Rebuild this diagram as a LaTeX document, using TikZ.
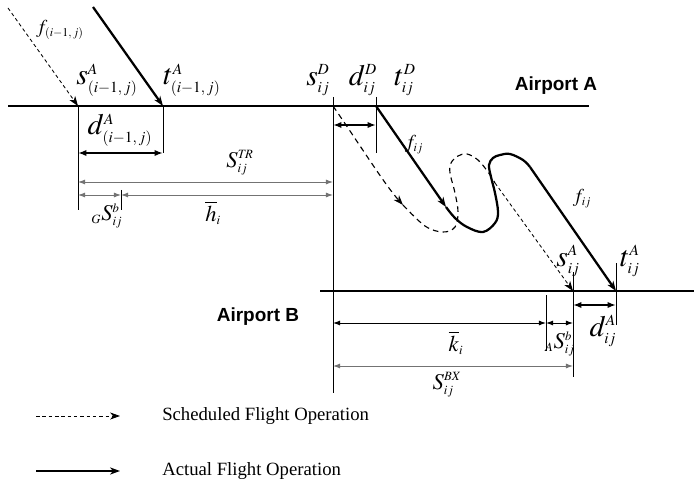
\documentclass[tikz,border=0pt]{standalone}
\usepackage{amsmath}
\usepackage{mathptmx}
\usepackage{fontspec}
\setmainfont{Liberation Serif}
\setsansfont{Liberation Sans}
\usepackage{xcolor}
\usepackage{tikz}
\usetikzlibrary{arrows.meta}
\DeclareMathSizes{21}{21}{11}{8}
\DeclareMathSizes{16}{16}{9}{6}
\DeclareMathSizes{14}{14}{8.5}{6}

\begin{document}
\begin{tikzpicture}[x=0.025cm,y=-0.025cm,
    apt/.style={line width=1pt},
    tick/.style={line width=0.5pt},
    act/.style={line width=1.6pt},
    sched/.style={line width=0.8pt, dash pattern=on 4pt off 3pt},
    fine/.style={line width=0.6pt, dash pattern=on 2.5pt off 2pt},
    tip/.style={-{Stealth[length=7pt,width=5pt,inset=2pt]}},
    dim/.style={{Latex[length=5pt,width=3.5pt]}-{Latex[length=5pt,width=3.5pt]}, line width=0.6pt},
    bigdim/.style={{Latex[length=6pt,width=4.5pt]}-{Latex[length=6pt,width=4.5pt]}, line width=1.4pt},
    lab/.style={font=\fontsize{21}{24}\selectfont, inner sep=0pt},
    sm/.style={font=\fontsize{16}{18}\selectfont, inner sep=0pt},
    flab/.style={font=\fontsize{14}{16}\selectfont, inner sep=0pt},
    apname/.style={font=\sffamily\bfseries\fontsize{13.5}{16}\selectfont, inner sep=0pt},
    legtext/.style={font=\fontsize{13.3}{16}\selectfont, inner sep=0pt, anchor=west}]

    \useasboundingbox (0,0) rectangle (694,491);

    \coordinate (aptA0) at (8,106);
    \coordinate (aptA1) at (589,106);
    \coordinate (aptB0) at (320,291);
    \coordinate (aptB1) at (694,291);
    \coordinate (sAprev) at (78,106);
    \coordinate (tAprev) at (163,106);
    \coordinate (sD) at (333,106);
    \coordinate (tD) at (376,106);
    \coordinate (sA) at (573,291);
    \coordinate (tA) at (616,291);
    \coordinate (bufG) at (121,195);
    \coordinate (bufA) at (546,323);
    \coordinate (schedMid) at (403,205);
    \coordinate (actMid) at (446,207);
    \coordinate (schedOut) at (495,183);
    \coordinate (actOut) at (530,167);

    \draw[apt] (aptA0) -- (aptA1);
    \draw[apt] (aptB0) -- (aptB1);
    \node[apname] (airA) at (556,86) {Airport A};
    \node[apname] (airB) at (258,317) {Airport B};

    \draw[tick] (sAprev) -- ++(0,104);
    \draw[tick] (tAprev) -- ++(0,47);
    \draw[tick] (bufG |- 0,190) -- (bufG |- 0,210);
    \draw[tick] (sD |- 0,97) -- (sD |- 0,393);
    \draw[tick] (tD |- 0,97) -- (tD |- 0,153);
    \draw[tick] (sA |- 0,272) -- (sA |- 0,377);
    \draw[tick] (tA |- 0,263) -- (tA |- 0,325);
    \draw[tick] (bufA |- 0,295) -- (bufA |- 0,351);

    \draw[bigdim] (sAprev |- 0,153) -- (tAprev |- 0,153);
    \draw[dim, black!55] (sAprev |- 0,182) -- (sD |- 0,182);
    \draw[dim, black!55] (sAprev |- bufG) -- (bufG);
    \draw[dim, black!55] (bufG) -- (sD |- bufG);
    \draw[bigdim] (sD |- 0,125) -- (tD |- 0,125);
    \draw[bigdim] (sA |- 0,305) -- (tA |- 0,305);
    \draw[dim] (sD |- bufA) -- (bufA);
    \draw[dim] (bufA) -- (sA |- bufA);
    \draw[dim, black!55] (sD |- 0,366) -- (sA |- 0,366);

    \draw[fine, tip] (8,8) -- (sAprev);
    \draw[act, tip] (93,7) -- (tAprev);

    \draw[sched, tip] (sD) .. controls (360,145) and (385,185) .. (schedMid);
    \draw[sched] plot[smooth, tension=0.6] coordinates {(schedMid) (425,226) (443,232) (455,227) (458,212) (455,193) (450,173) (451,163) (458,156) (467,154) (478,160) (488,172) (schedOut)};
    \draw[fine, tip] (schedOut) -- (sA);

    \draw[act, tip] (tD) -- (actMid);
    \draw[act] plot[smooth, tension=0.6] coordinates {(actMid) (455,218) (467,227) (483,232) (495,223) (498,212) (495,193) (491,177) (489,165) (493,158) (500,155) (510,154) (523,160) (actOut)};
    \draw[act, tip] (actOut) -- (tA);

    \node[flab] (fprev) at (60,30) {$f_{(i-1,\,j)}$};
    \node[lab] (sAprevL) at (107,80) {$s^{A}_{(i-1,\,j)}$};
    \node[lab] (tAprevL) at (192,80) {$t^{A}_{(i-1,\,j)}$};
    \node[lab] (dAprevL) at (120,130) {$d^{A}_{(i-1,\,j)}$};
    \node[sm] (STRL) at (240,163) {$S^{T\!R}_{ij}$};
    \node[sm] (SGL) at (107,216) {${}_{G}S^{b}_{ij}$};
    \node[sm] (hL) at (213,213) {$\overline{h}_{i}$};
    \node[lab] (sDL) at (318,80) {$s^{D}_{ij}$};
    \node[lab] (dDL) at (363,80) {$d^{D}_{ij}$};
    \node[lab] (tDL) at (405,80) {$t^{D}_{ij}$};
    \node[flab] (f1L) at (414,145) {$f_{ij}$};
    \node[flab] (f2L) at (582,199) {$f_{ij}$};
    \node[lab] (sAL) at (568,261) {$s^{A}_{ij}$};
    \node[lab] (tAL) at (630,261) {$t^{A}_{ij}$};
    \node[lab] (dAL) at (603,331) {$d^{A}_{ij}$};
    \node[sm] (SAL) at (560,344) {${}_{A}S^{b}_{ij}$};
    \node[sm] (kL) at (456,343) {$\overline{k}_{i}$};
    \node[sm] (SBXL) at (447,385) {$S^{BX}_{ij}$};

    \draw[fine, tip] (36,416) -- (120,416);
    \node[legtext] (legSched) at (162,416) {Scheduled Flight Operation};
    \draw[act, tip] (36,471) -- (120,471);
    \node[legtext] (legAct) at (162,471) {Actual Flight Operation};
\end{tikzpicture}
\end{document}
